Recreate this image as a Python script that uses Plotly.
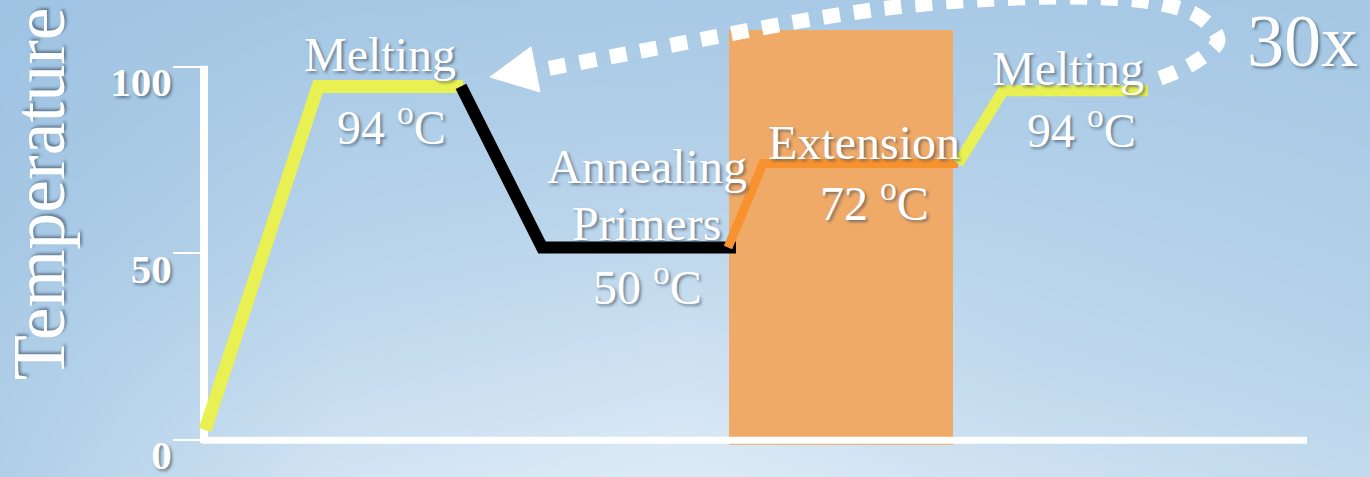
import plotly.graph_objects as go

# ---------------- data (time in arbitrary units, temperature in °C) ----------------
melt1_t = [0.0, 11.3, 25.8]
melt1_T = [2.7, 94.8, 94.8]
anneal_t = [25.6, 33.7, 53.1]
anneal_T = [94.8, 51.6, 51.6]
extend_t = [52.3, 55.8, 75.3]
extend_T = [51.6, 74.1, 74.1]
melt2_t = [75.3, 79.8, 94.3]
melt2_T = [74.1, 93.6, 93.6]

# extension period highlight (time span, temperature span)
ext_box_t = [52.4, 74.8]
ext_box_T = [-1.3, 109.9]

# "repeat 30x" arrow path
loop_t = [95.5, 99.0, 101.3, 99.5, 95.5, 89.5, 79.5, 69.5, 59.5, 49.5, 41.5, 33.5]
loop_T = [97.0, 101.3, 107.2, 113.3, 117.0, 118.6, 118.3, 116.2, 112.3, 107.3, 103.2, 99.2]
head_t = [28.5, 32.6, 33.5, 28.5]
head_T = [97.3, 105.4, 93.3, 97.3]

tick_vals = [0, 50, 100]
tick_text = ["0", "50", "100"]
x_axis_end = 110.2

# background shading grid
bg_t = [-20.5, 13.7, 48.0, 82.2, 116.5]
bg_T = [-9.92, 21.98, 54.2, 86.06, 117.96]
bg_z = [
    [0.30, 0.78, 0.92, 0.72, 0.55],
    [0.25, 0.58, 0.72, 0.52, 0.40],
    [0.15, 0.40, 0.50, 0.40, 0.30],
    [0.08, 0.28, 0.30, 0.28, 0.22],
    [0.05, 0.15, 0.18, 0.18, 0.15],
]

W, H = 1370, 477
X_RANGE = [-20.5, 116.5]
Y_RANGE = [-9.92, 117.96]

YELLOW = "#E9F052"
ORANGE = "#F7922F"
BOX = "#F0AA68"
SERIF = "Liberation Serif, Times New Roman, serif"
SHADOW = "2px 2px 3px rgba(50,70,90,0.6)"

fig = go.Figure()

fig.add_trace(go.Heatmap(
    x=bg_t, y=bg_T, z=bg_z, zsmooth="best", showscale=False, hoverinfo="skip",
    zmin=0, zmax=1,
    colorscale=[[0, "rgb(155,193,225)"], [1, "rgb(226,238,248)"]],
))

# extension highlight box
fig.add_trace(go.Scatter(
    x=[ext_box_t[0], ext_box_t[1], ext_box_t[1], ext_box_t[0], ext_box_t[0]],
    y=[ext_box_T[0], ext_box_T[0], ext_box_T[1], ext_box_T[1], ext_box_T[0]],
    mode="lines", fill="toself", fillcolor=BOX, line=dict(width=0, color=BOX),
    hoverinfo="skip", showlegend=False,
))

# axis lines
fig.add_trace(go.Scatter(x=[-0.1, -0.1], y=[-0.8, 100.3], mode="lines",
                         line=dict(color="white", width=8), hoverinfo="skip", showlegend=False))
fig.add_trace(go.Scatter(x=[-0.3, x_axis_end], y=[-0.1, -0.1], mode="lines",
                         line=dict(color="white", width=7), hoverinfo="skip", showlegend=False))

# temperature profile
fig.add_trace(go.Scatter(x=melt1_t, y=melt1_T, mode="lines",
                         line=dict(color=YELLOW, width=13), hoverinfo="skip", showlegend=False))
fig.add_trace(go.Scatter(x=anneal_t, y=anneal_T, mode="lines",
                         line=dict(color="black", width=12), hoverinfo="skip", showlegend=False))
fig.add_trace(go.Scatter(x=extend_t, y=extend_T, mode="lines",
                         line=dict(color=ORANGE, width=9), hoverinfo="skip", showlegend=False))
fig.add_trace(go.Scatter(x=melt2_t, y=melt2_T, mode="lines",
                         line=dict(color=YELLOW, width=11), hoverinfo="skip", showlegend=False))

# 30x loop arrow
fig.add_trace(go.Scatter(x=loop_t, y=loop_T, mode="lines",
                         line=dict(color="white", width=15, dash="17px,14px", shape="spline", smoothing=1.0),
                         hoverinfo="skip", showlegend=False))
fig.add_trace(go.Scatter(x=head_t, y=head_T, mode="lines", fill="toself", fillcolor="white",
                         line=dict(color="white", width=1), hoverinfo="skip", showlegend=False))

def label(text, t, T, size=48, angle=0):
    fig.add_annotation(
        x=t, y=T, xref="x", yref="y", text=text, showarrow=False,
        xanchor="center", yanchor="middle", textangle=angle,
        font=dict(family=SERIF, size=size, color="white", shadow=SHADOW),
    )

label("Temperature", -16.6, 65.9, size=74, angle=-90)
label("Melting", 17.5, 103.3)
label("94 <sup>o</sup>C", 18.6, 84.6)
label("Annealing", 44.2, 73.3)
label("Primers", 44.1, 58.0)
label("50 <sup>o</sup>C", 44.2, 41.8)
label("Extension", 65.9, 79.8)
label("72 <sup>o</sup>C", 66.9, 64.4)
label("Melting", 86.3, 99.6)
label("94 <sup>o</sup>C", 87.6, 84.0)
label("30x", 109.75, 107.0, size=74)

fig.update_layout(
    width=W, height=H, autosize=False,
    margin=dict(l=0, r=0, t=0, b=0, pad=0),
    paper_bgcolor="rgb(180,208,232)", plot_bgcolor="rgba(0,0,0,0)",
    showlegend=False,
    xaxis=dict(range=X_RANGE, visible=False, fixedrange=True),
    yaxis=dict(
        range=Y_RANGE, anchor="free", position=203 / W,
        showline=False, showgrid=False, zeroline=False,
        tickmode="array", tickvals=tick_vals, ticktext=tick_text,
        ticks="outside", ticklen=30, tickwidth=2, tickcolor="white",
        ticklabelshift=15, ticklabelstandoff=-7, ticklabeloverflow="allow",
        tickfont=dict(family=SERIF, size=41, color="white", weight="bold", shadow=SHADOW),
        fixedrange=True,
    ),
)

fig.write_html("out.html")
